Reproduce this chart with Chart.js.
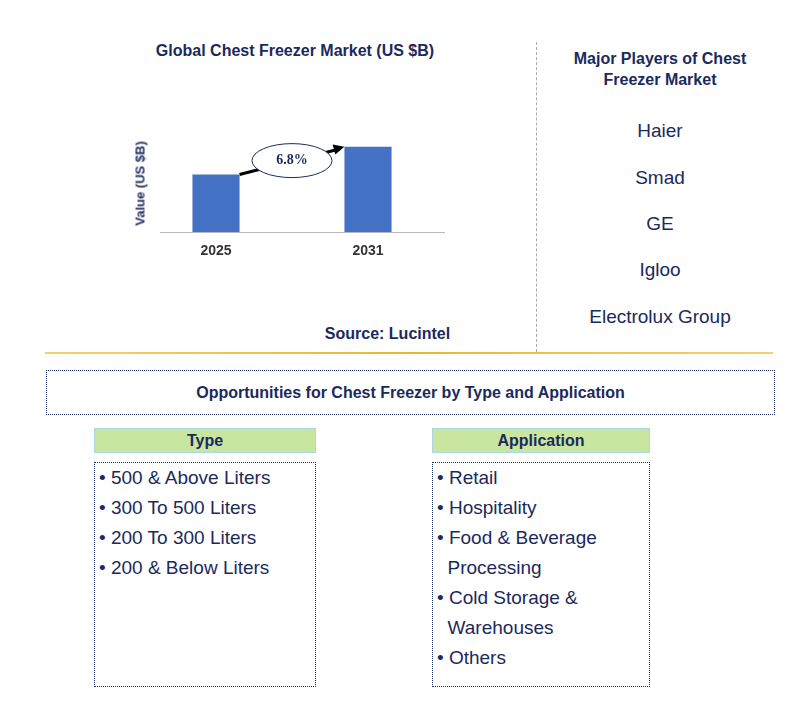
<!DOCTYPE html>
<html><head><meta charset="utf-8">
<script src="https://cdn.jsdelivr.net/npm/chart.js@4/dist/chart.umd.min.js"></script>
<style>
body{margin:0;width:793px;height:711px;background:#fff;font-family:"Liberation Sans",Arial,sans-serif;color:#1b2a5c;position:relative;overflow:hidden}
.a{position:absolute}
.t{font-weight:bold;font-size:15px;text-align:center}
.p{font-size:19px;text-align:center;width:240px;left:540px}
.box{border:1px dotted #1b2a5c;box-sizing:border-box}
.hdr{background:#c9e6a0;border:1px solid #a9d7e3;box-sizing:border-box;font-weight:bold;font-size:16px;text-align:center;line-height:23px}
.li{font-size:19px;line-height:30px;padding:0 4px}
</style></head><body>
<div class="a t" style="left:100px;top:42px;width:390px;font-size:16px">Global Chest Freezer Market (US $B)</div>
<div class="a" style="left:160px;top:232px;width:285px;height:1px;background:#bbb"></div>
<div class="a" style="left:132px;top:95px;width:312px;height:168px"><canvas id="c"></canvas></div>
<div class="a t" style="left:80px;top:176px;width:120px;font-size:13px;transform:rotate(-90deg)">Value (US $B)</div>
<div class="a t" style="left:300px;top:325px;width:175px;font-size:16px">Source: Lucintel</div>
<div class="a" style="left:536px;top:42px;height:310px;border-left:1px dashed #aaa"></div>
<div class="a t" style="left:550px;top:48px;width:220px;font-size:16px;line-height:21px">Major Players of Chest Freezer Market</div>
<div class="a p" style="top:120px">Haier</div>
<div class="a p" style="top:167px">Smad</div>
<div class="a p" style="top:213px">GE</div>
<div class="a p" style="top:259px">Igloo</div>
<div class="a p" style="top:306px">Electrolux Group</div>
<div class="a" style="left:45px;top:352px;width:728px;height:2px;background:linear-gradient(90deg,#f3d070,#e8b830,#f3d070)"></div>
<div class="a box t" style="left:46px;top:370px;width:729px;height:45px;line-height:43px;font-size:16px;font-weight:bold">Opportunities for Chest Freezer by Type and Application</div>
<div class="a hdr" style="left:94px;top:428px;width:222px;height:25px">Type</div>
<div class="a box li" style="left:94px;top:462px;width:222px;height:225px">• 500 &amp; Above Liters<br>• 300 To 500 Liters<br>• 200 To 300 Liters<br>• 200 &amp; Below Liters</div>
<div class="a hdr" style="left:432px;top:428px;width:218px;height:25px">Application</div>
<div class="a box li" style="left:432px;top:462px;width:218px;height:225px">• Retail<br>• Hospitality<br>• Food &amp; Beverage<br>&nbsp;&nbsp;Processing<br>• Cold Storage &amp;<br>&nbsp;&nbsp;Warehouses<br>• Others</div>
<script>
const categories=["2025","2031"];
const values=[2.9,4.3];
const cagrLabel="6.8%";
const deco={id:'deco',afterDatasetsDraw(ch){
 const m=ch.getDatasetMeta(0).data,c=ch.ctx;
 const x1=m[0].x+m[0].width/2,y1=m[0].y,x2=m[1].x-m[1].width/2,y2=m[1].y;
 c.save();c.strokeStyle='#000';c.lineWidth=3;c.beginPath();c.moveTo(x1,y1);c.lineTo(x2-8,y2+3);c.stroke();
 const ang=Math.atan2(y2-y1,x2-x1);c.fillStyle='#000';c.beginPath();c.moveTo(x2,y2);
 c.lineTo(x2-12*Math.cos(ang-0.45),y2-12*Math.sin(ang-0.45));c.lineTo(x2-12*Math.cos(ang+0.45),y2-12*Math.sin(ang+0.45));c.fill();
 const cx=(x1+x2)/2,cy=(y1+y2)/2;
 c.fillStyle='#fff';c.strokeStyle='#1b2a5c';c.lineWidth=1;c.beginPath();c.ellipse(cx,cy,40,17,0,0,2*Math.PI);c.fill();c.stroke();
 c.fillStyle='#1b2a5c';c.font='bold 14px "Liberation Serif",serif';c.textAlign='center';c.textBaseline='middle';c.fillText(cagrLabel,cx,cy);c.restore();}};
new Chart(document.getElementById('c'),{type:'bar',
 data:{labels:categories,datasets:[{data:values,backgroundColor:'#4472c4',barPercentage:1,categoryPercentage:0.31}]},
 options:{responsive:true,maintainAspectRatio:false,animation:false,
  layout:{padding:0},
  plugins:{legend:{display:false},tooltip:{enabled:false}},
  scales:{x:{grid:{display:false},border:{display:false},ticks:{color:'#333',font:{size:14,weight:'bold',family:'Liberation Sans'}}},
   y:{min:0,max:6.9,grid:{display:false},border:{display:false},ticks:{display:false}}}},
 plugins:[deco]});
</script></body></html>
